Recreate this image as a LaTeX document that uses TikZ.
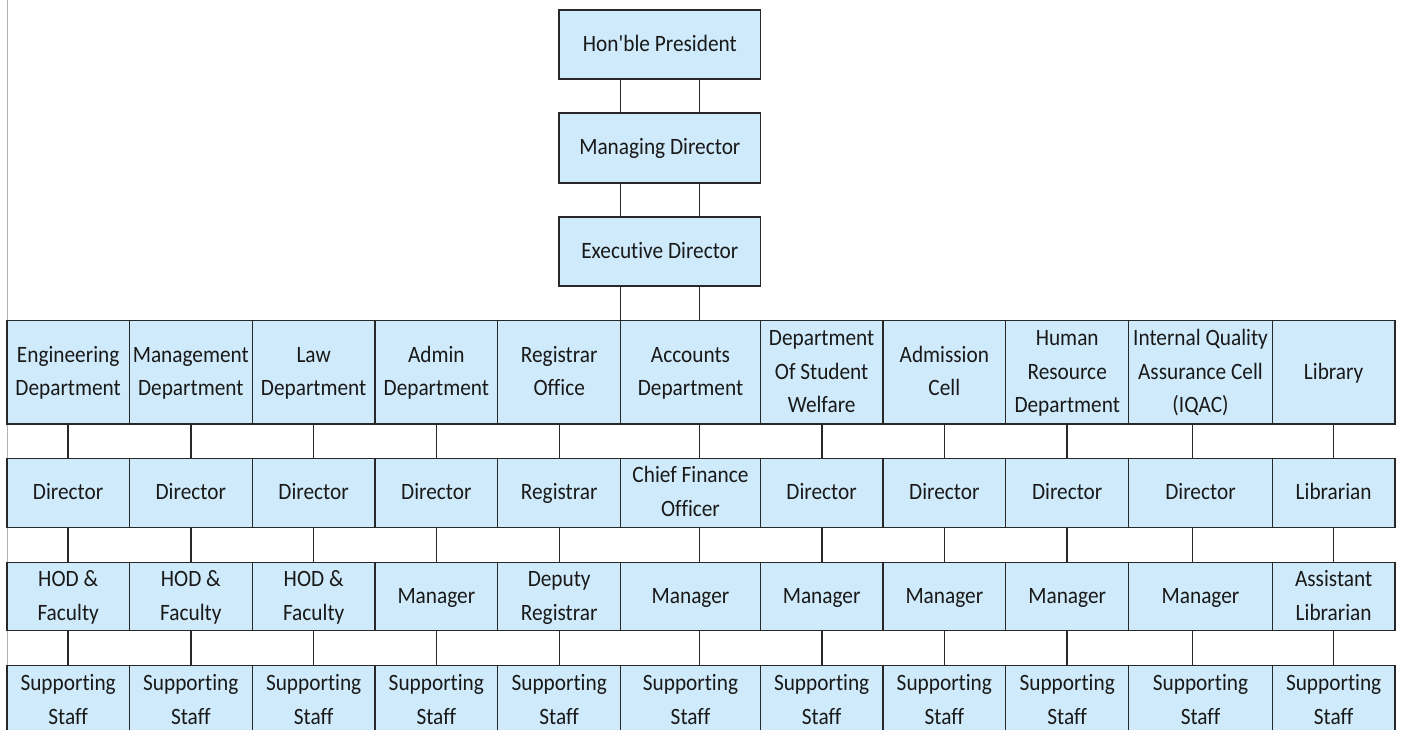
\documentclass[tikz,border=0pt]{standalone}
\usepackage{graphicx}
\usepackage{fontspec}
\setmainfont{Carlito}[Ligatures=NoCommon]
\definecolor{cellblue}{RGB}{207,234,250}
\definecolor{gridline}{RGB}{40,40,40}
\definecolor{txt}{RGB}{25,25,25}
\newcommand{\lbl}[1]{\scalebox{1}[1.1]{\begin{tabular}{@{}c@{}}#1\end{tabular}}}
\begin{document}
\begin{tikzpicture}[x=1pt,y=-1pt,
  box/.style={draw=gridline,line width=1.4pt,fill=cellblue,rectangle,inner sep=0pt,
    align=center,text=txt,font=\fontsize{21.3}{30.5}\selectfont},
  link/.style={draw=gridline,line width=1.4pt}]
\clip (0,0) rectangle (1402,730);
\fill[white] (0,0) rectangle (1402,730);
\draw[black!30,line width=0.8pt] (7,0) -- (7,730);
% top chain
\node[box,minimum width=201.7pt,minimum height=69pt] (hp) at (659.85,44.5) {\lbl{Hon\textquotesingle ble President}};
\node[box,minimum width=201.7pt,minimum height=70pt] (md) at (659.85,148) {\lbl{Managing Director}};
\node[box,minimum width=201.7pt,minimum height=69pt] (ed) at (659.85,251.5) {\lbl{Executive Director}};
% grid columns
\foreach \i/\l/\r/\g/\ta/\tb/\tc in {
 1/7/129.3/68/{Engineering\\Department}/{Director}/{HOD \&\\Faculty},
 2/129.3/252.3/191/{Management\\Department}/{Director}/{HOD \&\\Faculty},
 3/252.3/375/313.3/{Law\\Department}/{Director}/{HOD \&\\Faculty},
 4/375/497.7/436.7/{Admin\\Department}/{Director}/{Manager},
 5/497.7/620.7/559.7/{Registrar\\Office}/{Registrar}/{Deputy\\Registrar},
 6/620.7/760.3/699.3/{Accounts\\Department}/{Chief Finance\\Officer}/{Manager},
 7/760.3/883/822/{Department\\Of Student\\Welfare}/{Director}/{Manager},
 8/883/1005.7/944.3/{Admission\\Cell}/{Director}/{Manager},
 9/1005.7/1128.7/1067/{Human\\Resource\\Department}/{Director}/{Manager},
 10/1128.7/1272.3/1192.7/{Internal Quality\\Assurance Cell\\(IQAC)}/{Director}/{Manager},
 11/1272.3/1395/1333.7/{Library}/{Librarian}/{Assistant\\Librarian}}
{
  \pgfmathsetmacro{\w}{\r-\l}
  \pgfmathsetmacro{\cx}{(\r+\l)/2}
  \node[box,minimum width=\w pt,minimum height=103.3pt] (d\i) at (\cx,372.35) {\lbl{\ta}};
  \node[box,minimum width=\w pt,minimum height=69pt] (r\i) at (\cx,492.8) {\lbl{\tb}};
  \node[box,minimum width=\w pt,minimum height=68pt] (h\i) at (\cx,596.7) {\lbl{\tc}};
  \node[box,minimum width=\w pt,minimum height=70pt] (s\i) at (\cx,700.7) {\lbl{Supporting\\Staff}};
  \coordinate (g\i) at (\g,0);
  \draw[link] (d\i.south -| g\i) -- (r\i.north -| g\i);
  \draw[link] (r\i.south -| g\i) -- (h\i.north -| g\i);
  \draw[link] (h\i.south -| g\i) -- (s\i.north -| g\i);
}
% connectors of top chain
\coordinate (ca) at (620.7,0);
\coordinate (cb) at (699.3,0);
\foreach \p/\q in {hp/md,md/ed,ed/d6}{
  \draw[link] (\p.south -| ca) -- (\q.north -| ca);
  \draw[link] (\p.south -| cb) -- (\q.north -| cb);
}
\end{tikzpicture}
\end{document}
